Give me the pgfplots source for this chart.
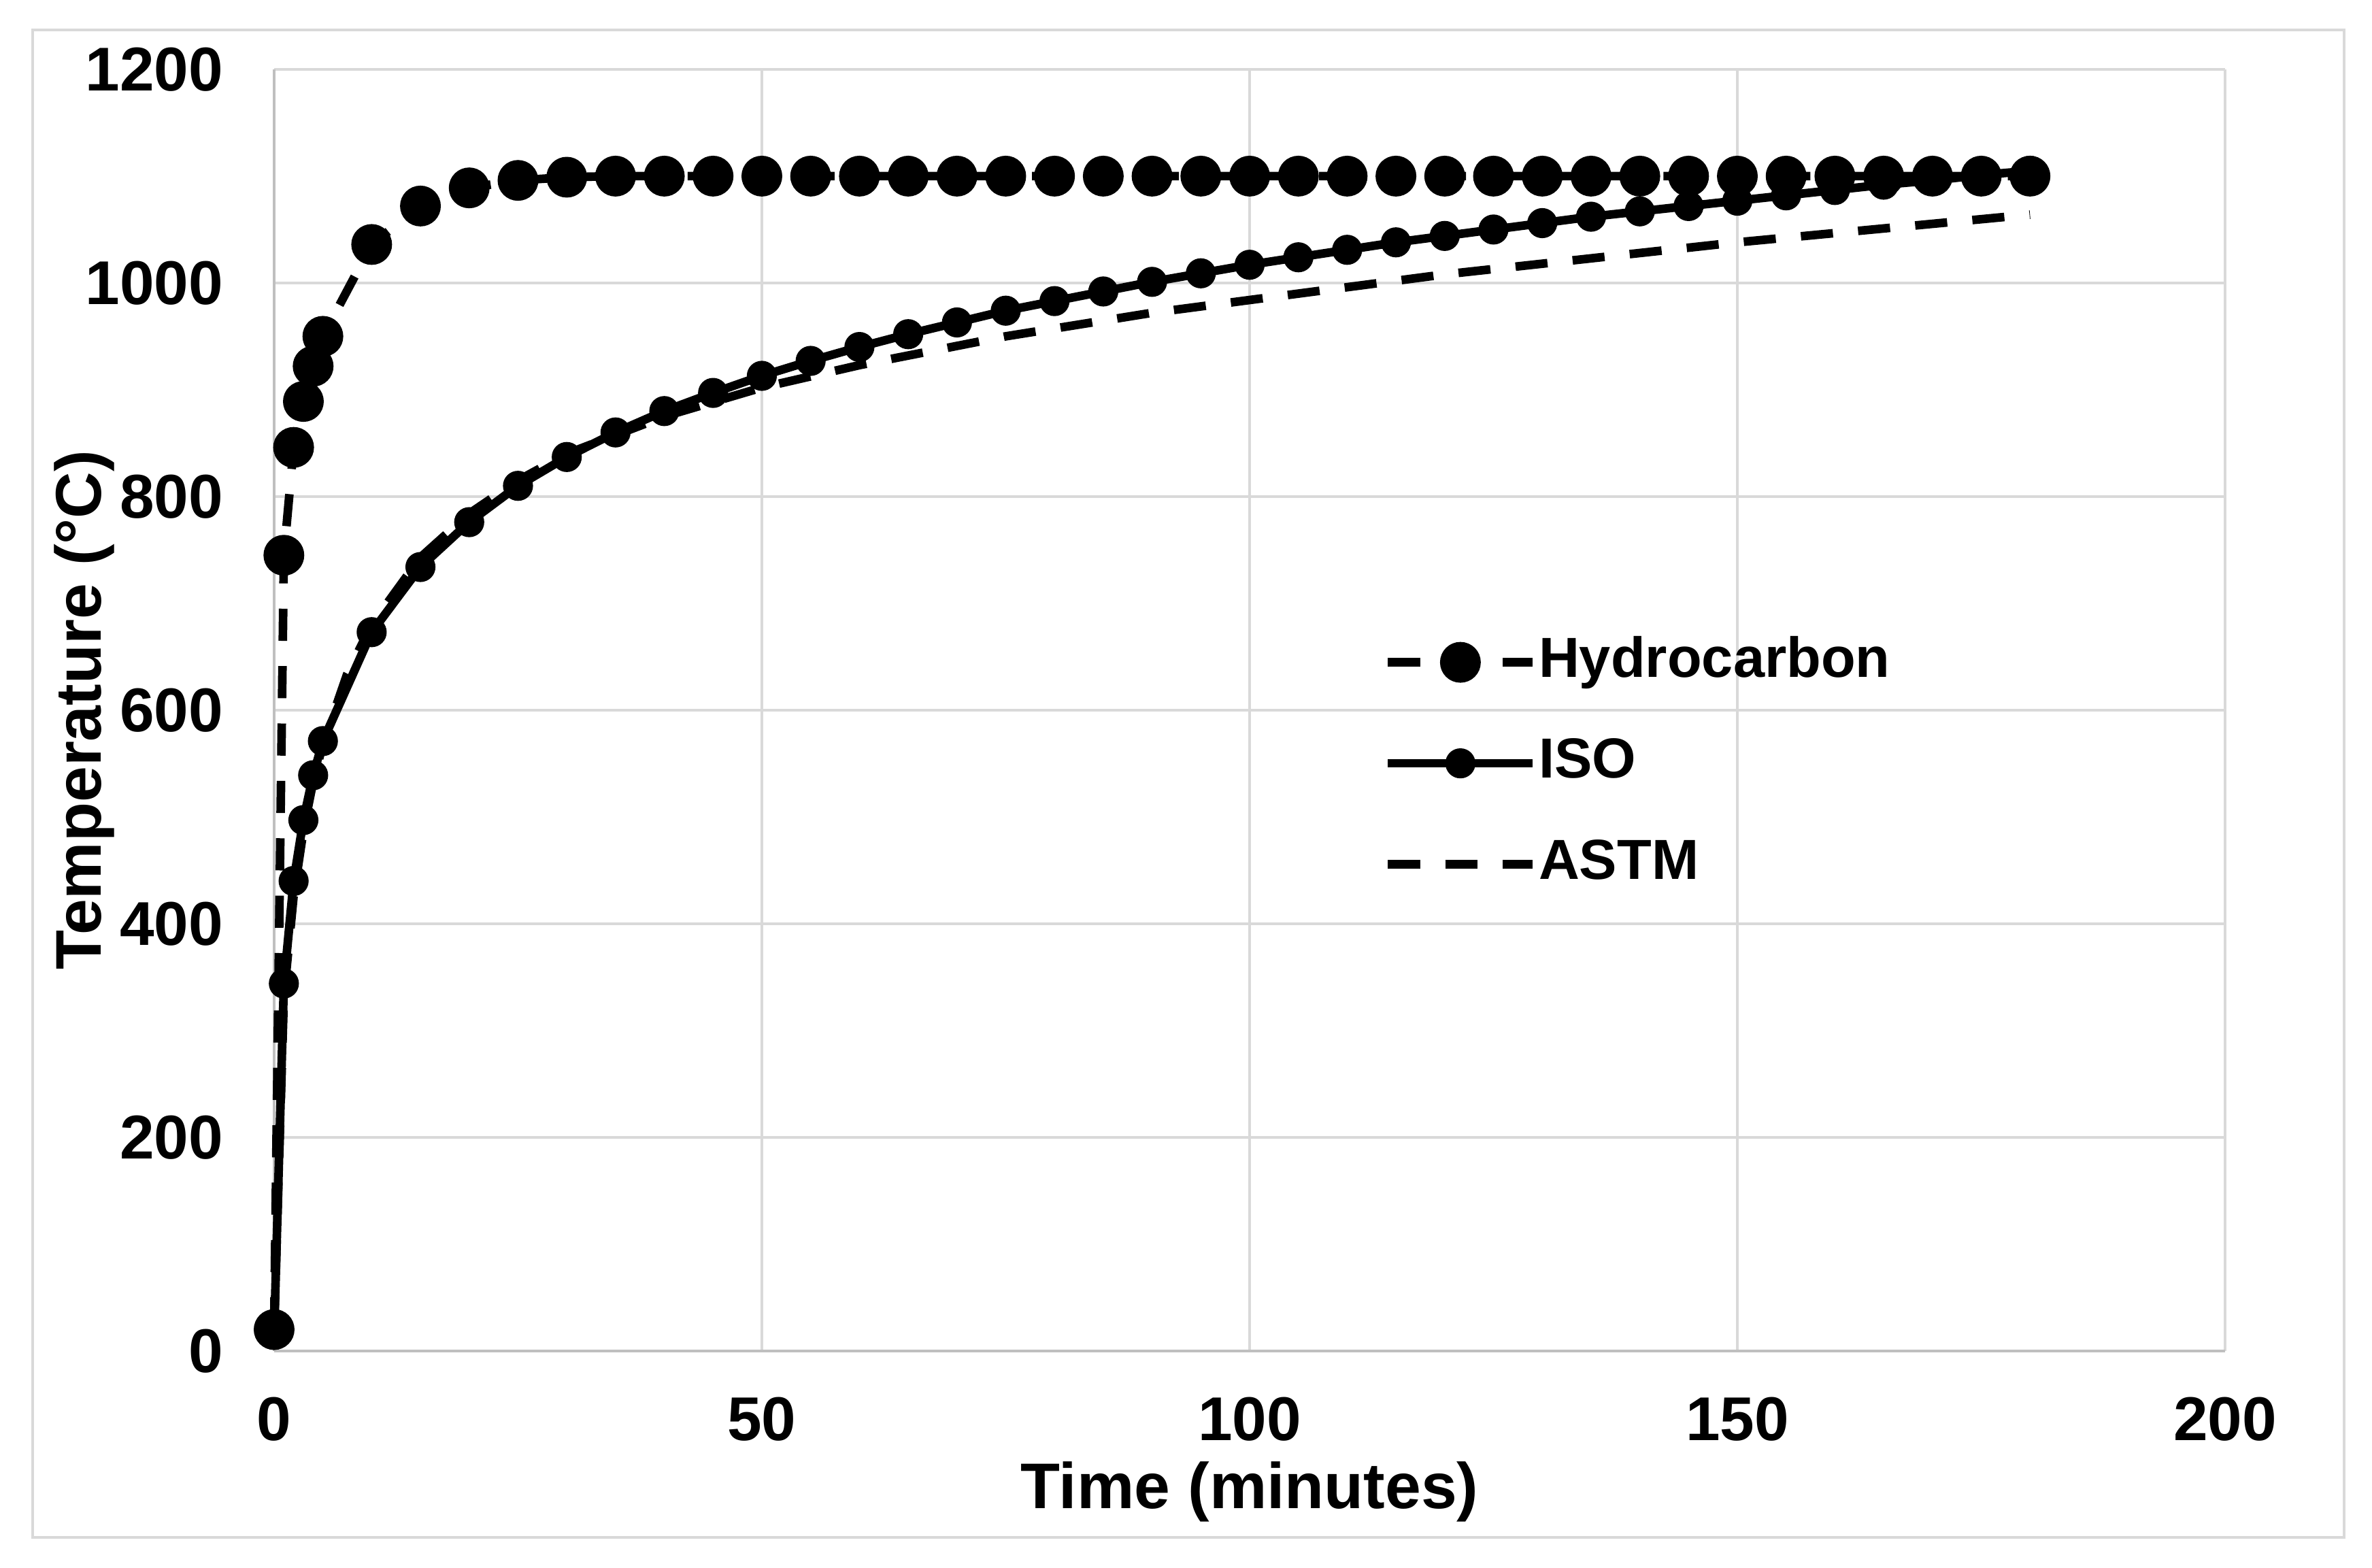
\documentclass[border=0pt]{standalone}
\usepackage{fontspec}
\setmainfont{Liberation Sans}
\usepackage{pgfplots}
\pgfplotsset{compat=1.18}
\definecolor{gridgray}{HTML}{D9D9D9}
\definecolor{axisgray}{HTML}{BFBFBF}

\begin{document}
\begin{tikzpicture}
\useasboundingbox (-1.791,-1.414) rectangle (13.707,8.826);
\draw[gridgray, line width=0.5pt] (-1.578,-1.218) rectangle (13.525,8.631);
\begin{axis}[
  at={(0,0)}, anchor=south west,
  scale only axis, width=12.747cm, height=8.373cm,
  xmin=0, xmax=200, ymin=0, ymax=1200,
  xtick={0,50,...,200}, ytick={0,200,...,1200},
  axis x line*=bottom, axis y line*=left,
  axis line style={-, draw=axisgray, line width=0.55pt},
  grid=major, grid style={gridgray, line width=0.5pt},
  major tick length=0pt,
  clip=false,
  /pgf/number format/assume math mode=true,
  /pgf/number format/1000 sep={},
  tick label style={font=\bfseries\fontsize{11.5}{13}\selectfont},
  xticklabel style={yshift=-0.18cm},
  yticklabel style={xshift=-0.21cm},
  label style={font=\bfseries\fontsize{12}{14}\selectfont},
  xlabel={Time (minutes)},
  ylabel={Temperature (°C)},
  xlabel style={at={(axis description cs:0.500,-0.1227)}, anchor=base},
  ylabel style={at={(axis description cs:-0.0889,0.5)}, anchor=base},
  legend cell align=left,
  legend image code/.code={
    \draw[mark repeat=2, mark phase=2, #1] plot coordinates {(0cm,0cm) (0.4735cm,0cm) (0.947cm,0cm)};
  },
  legend style={draw=none, fill=none, at={(rel axis cs:0.5687,0.5582)}, anchor=north west,
    inner sep=0pt, outer sep=0pt, row sep=0.31cm, column sep=0.01cm,
    font=\bfseries\fontsize{10.5}{12}\selectfont,
    nodes={inner sep=0pt, text height=0.27cm, text depth=0.08cm}},
]

% Hydrocarbon
\addplot[black, line width=1.6pt, dash pattern=on 0.21cm off 0.165cm,
  mark=*, mark size=0.105cm, mark options={solid, fill=black, draw=none}]
  coordinates {
  (0,20) (1,745) (2,846) (3,889) (4,922) (5,950) (10,1036) (15,1072)
  (20,1089) (25,1096) (30,1099) (35,1100) (40,1100) (45,1100) (50,1100)
  (55,1100) (60,1100) (65,1100) (70,1100) (75,1100) (80,1100) (85,1100)
  (90,1100) (95,1100) (100,1100) (105,1100) (110,1100) (115,1100) (120,1100)
  (125,1100) (130,1100) (135,1100) (140,1100) (145,1100) (150,1100)
  (155,1100) (160,1100) (165,1100) (170,1100) (175,1100) (180,1100)
  };

% ISO
\addplot[black, line width=1.6pt, solid,
  mark=*, mark size=0.07cm, mark options={solid, fill=black, draw=none}]
  coordinates {
  (0,15) (1,344) (2,440) (3,497) (4,539) (5,571) (10,673) (15,734)
  (20,776) (25,810) (30,837) (35,860) (40,880) (45,897) (50,913)
  (55,927) (60,940) (65,952) (70,963) (75,974) (80,983) (85,992)
  (90,1001) (95,1009) (100,1017) (105,1024) (110,1031) (115,1038) (120,1044)
  (125,1050) (130,1056) (135,1062) (140,1067) (145,1072) (150,1077)
  (155,1082) (160,1087) (165,1092) (170,1096) (175,1101) (180,1105)
  };

% ASTM
\addplot[black, line width=1.6pt, dash pattern=on 0.21cm off 0.165cm, no marks]
  coordinates {
  (0,20) (1,332) (2,426) (3,487) (4,533) (5,568) (7.5,634) (10,680)
  (15,743) (20,784) (25,815) (30,840) (40,875) (50,902) (60,923)
  (75,950) (90,972) (105,990) (120,1008) (135,1023) (150,1038)
  (165,1051) (180,1064)
  };

\legend{Hydrocarbon, ISO, ASTM}
\end{axis}
\end{tikzpicture}
\end{document}
